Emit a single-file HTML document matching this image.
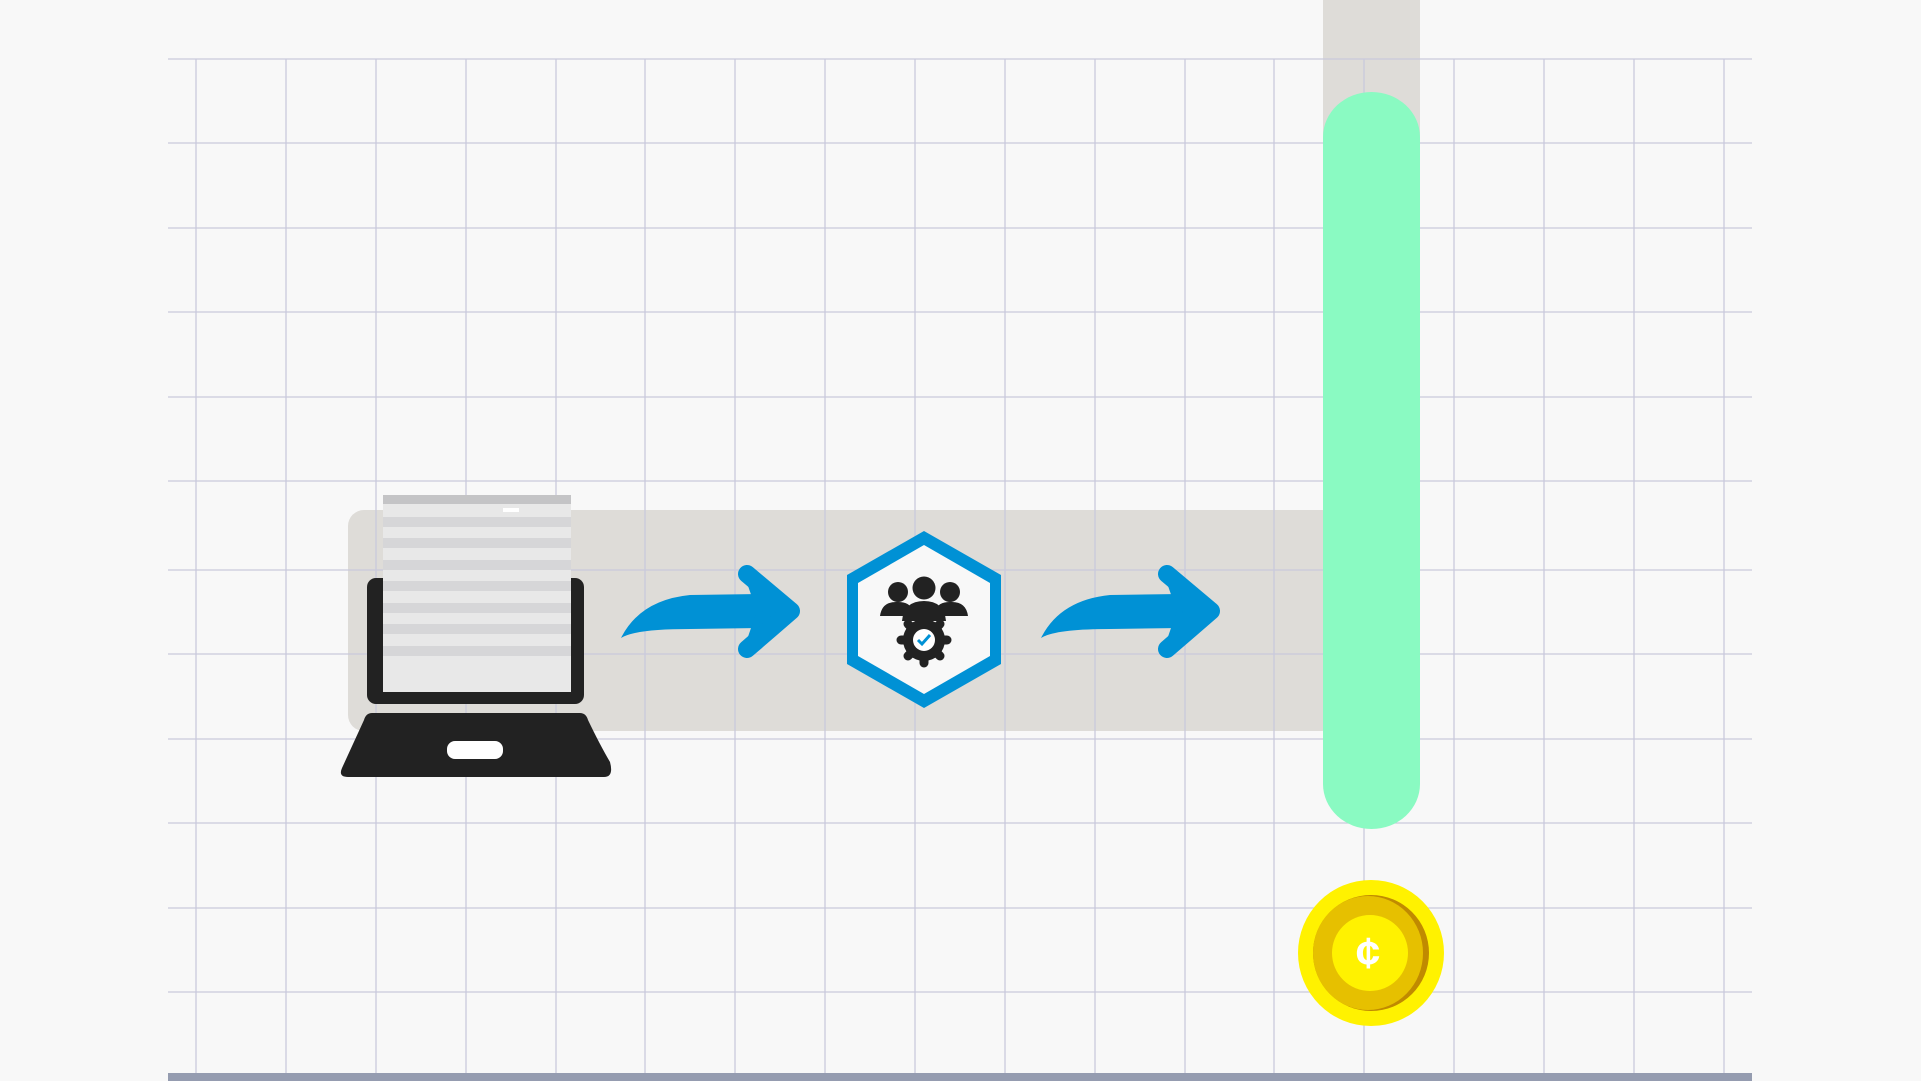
<!DOCTYPE html>
<html><head><meta charset="utf-8"><style>
html,body{margin:0;padding:0;background:#f8f8f8;width:1921px;height:1081px;overflow:hidden}
</style></head><body>
<svg width="1921" height="1081" viewBox="0 0 1921 1081" xmlns="http://www.w3.org/2000/svg">
<rect width="1921" height="1081" fill="#f8f8f8"/>
<rect x="348" y="510" width="990" height="221" rx="16" fill="#dedcd8"/>
<rect x="1323" y="0" width="97" height="140" fill="#dedcd8"/>
<g stroke="#c9c9dc" stroke-width="1.3">
<line x1="168" y1="59" x2="1752" y2="59"/><line x1="168" y1="143" x2="1752" y2="143"/>
<line x1="168" y1="228" x2="1752" y2="228"/><line x1="168" y1="312" x2="1752" y2="312"/>
<line x1="168" y1="397" x2="1752" y2="397"/><line x1="168" y1="481" x2="1752" y2="481"/>
<line x1="168" y1="570" x2="1752" y2="570"/><line x1="168" y1="654" x2="1752" y2="654"/>
<line x1="168" y1="739" x2="1752" y2="739"/><line x1="168" y1="823" x2="1752" y2="823"/>
<line x1="168" y1="908" x2="1752" y2="908"/><line x1="168" y1="992" x2="1752" y2="992"/>
<line x1="196" y1="59" x2="196" y2="1074"/><line x1="286" y1="59" x2="286" y2="1074"/>
<line x1="376" y1="59" x2="376" y2="1074"/><line x1="466" y1="59" x2="466" y2="1074"/>
<line x1="556" y1="59" x2="556" y2="1074"/><line x1="645" y1="59" x2="645" y2="1074"/>
<line x1="735" y1="59" x2="735" y2="1074"/><line x1="825" y1="59" x2="825" y2="1074"/>
<line x1="915" y1="59" x2="915" y2="1074"/><line x1="1005" y1="59" x2="1005" y2="1074"/>
<line x1="1095" y1="59" x2="1095" y2="1074"/><line x1="1185" y1="59" x2="1185" y2="1074"/>
<line x1="1274" y1="59" x2="1274" y2="1074"/><line x1="1364" y1="59" x2="1364" y2="1074"/>
<line x1="1454" y1="59" x2="1454" y2="1074"/><line x1="1544" y1="59" x2="1544" y2="1074"/>
<line x1="1634" y1="59" x2="1634" y2="1074"/><line x1="1724" y1="59" x2="1724" y2="1074"/>
</g>
<rect x="168" y="1073" width="1584" height="8" fill="#959cb0"/>
<path d="M1323 137 A48.5 45 0 0 1 1420 137 L1420 784 A48.5 45 0 0 1 1323 784 Z" fill="#8afac2"/>
<ellipse cx="1371" cy="953" rx="73" ry="73" fill="#fff200"/>
<ellipse cx="1371" cy="953" rx="58" ry="58" fill="#c08a00"/>
<ellipse cx="1368" cy="953" rx="55" ry="57" fill="#e6c000"/>
<ellipse cx="1370" cy="953" rx="38" ry="38" fill="#fff200"/>
<text x="1368" y="968" font-family="Liberation Sans,sans-serif" font-weight="bold" font-size="44" fill="#fff" text-anchor="middle">¢</text>
<rect x="367" y="578" width="217" height="126" rx="9" fill="#222"/>
<path d="M372 713 L580 713 Q586 713 588 720 Q600 745 610 762 Q614 777 604 777 L348 777 Q338 777 342 768 L364 720 Q366 713 372 713 Z" fill="#222"/>
<rect x="447" y="741" width="56" height="18" rx="8" fill="#fff"/>
<rect x="383" y="495" width="188" height="197" fill="#e8e8e8"/>
<rect x="383" y="495" width="188" height="9" fill="#c4c4c6"/>
<rect x="503" y="508" width="16" height="4" fill="#fff"/>
<g fill="#d6d6d8">
<rect x="383" y="517" width="188" height="10"/><rect x="383" y="538" width="188" height="10"/>
<rect x="383" y="560" width="188" height="10"/><rect x="383" y="581" width="188" height="10"/>
<rect x="383" y="603" width="188" height="10"/><rect x="383" y="624" width="188" height="10"/>
<rect x="383" y="646" width="188" height="10"/>
</g>
<g id="arr">
<path d="M621 638 Q640 600 690 595 L760 594 L785 611 L760 628 L690 629 Q635 629 621 638 Z" fill="#0091d5"/>
<polygon points="747,574 791,611 747,649 760,611" fill="#0091d5" stroke="#0091d5" stroke-width="6" stroke-linejoin="round"/>
<polyline points="747,574 791,611 747,649" fill="none" stroke="#0091d5" stroke-width="18" stroke-linecap="round" stroke-linejoin="round"/>
</g>
<use href="#arr" transform="translate(420,0)"/>
<polygon points="924,531 1001,575 1001,664 924,708 847,664 847,575" fill="#0091d5"/>
<polygon points="924,545 990,583 990,656 924,694 858,656 858,583" fill="#f8f8f8"/>
<g fill="#222">
<circle cx="898" cy="592" r="10"/><circle cx="924" cy="588" r="11.5"/><circle cx="950" cy="592" r="10"/>
<path d="M880 616 Q882 601 898 602 Q910 602 912 610 L912 616 Z"/>
<path d="M936 610 Q938 602 950 602 Q966 601 968 616 L936 616 Z"/>
<path d="M902 621 Q904 601 924 601 Q944 601 946 621 Z"/>
<circle cx="924" cy="640" r="21"/>
<g stroke="#222" stroke-width="9" stroke-linecap="round">
<line x1="924" y1="617" x2="924" y2="663"/><line x1="901" y1="640" x2="947" y2="640"/>
<line x1="908" y1="624" x2="940" y2="656"/><line x1="940" y1="624" x2="908" y2="656"/>
</g>
</g>
<circle cx="924" cy="640" r="11" fill="#fff"/>
<path d="M918 640 L922 644 L930 635" stroke="#0091d5" stroke-width="3" fill="none"/>
</svg>
</body></html>
